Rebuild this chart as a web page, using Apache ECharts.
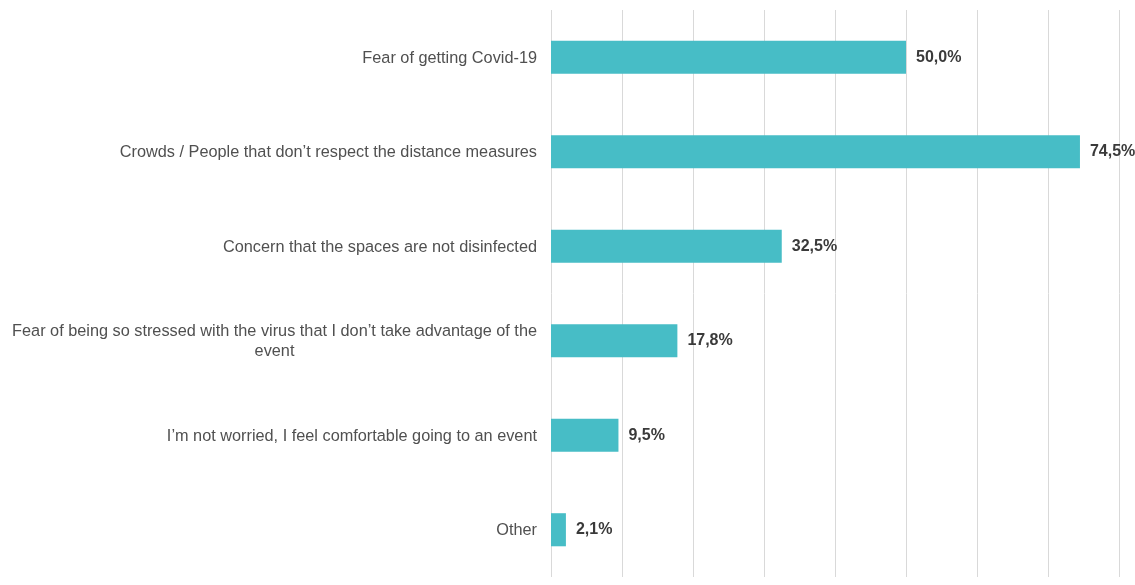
<!DOCTYPE html>
<html>
<head>
<meta charset="utf-8">
<script src="https://cdn.jsdelivr.net/npm/echarts@6/dist/echarts.min.js"></script>
<style>
  html, body { margin: 0; padding: 0; background: #ffffff; }
  #chart { width: 1135px; height: 585px; }
</style>
</head>
<body>
<div id="chart"></div>
<script>
// Concerns about attending an event (share of respondents, %)
const categories = [
  "Fear of getting Covid-19",
  "Crowds / People that don\u2019t respect the distance measures",
  "Concern that the spaces are not disinfected",
  "Fear of being so stressed with the virus that I don\u2019t take advantage of the event",
  "I\u2019m not worried, I feel comfortable going to an event",
  "Other"
];
const shares = [50.0, 74.5, 32.5, 17.8, 9.5, 2.1];
const axisMax = 80;
const axisStep = 10;

// Wrap long labels at the last space before the limit
function wrapLabel(text, limit) {
  if (text.length <= limit) return text;
  const cut = text.lastIndexOf(' ', limit);
  return text.slice(0, cut) + '\n' + text.slice(cut + 1);
}

const chart = echarts.init(document.getElementById('chart'));
chart.setOption({
  animation: false,
  grid: { left: 551, right: 16, top: 10, bottom: 8, containLabel: false },
  xAxis: {
    type: 'value',
    min: 0,
    max: axisMax,
    interval: axisStep,
    axisLine: { show: false },
    axisTick: { show: false },
    axisLabel: { show: false },
    splitLine: { show: true, lineStyle: { color: '#d9d9d9', width: 1 } }
  },
  yAxis: {
    type: 'category',
    inverse: true,
    data: categories,
    axisLine: { show: false },
    axisTick: { show: false },
    axisLabel: {
      margin: 14,
      formatter: function (v) { return '{c|' + wrapLabel(v, 76) + '}'; },
      rich: {
        c: {
          fontFamily: 'Liberation Sans, Arial, sans-serif',
          fontSize: 16.3,
          color: '#505050',
          lineHeight: 20,
          align: 'center',
          padding: [2, 0, 0, 0]
        }
      }
    }
  },
  series: [{
    type: 'bar',
    data: shares,
    barCategoryGap: '65%',
    itemStyle: { color: '#47bdc6' },
    label: {
      show: true,
      position: 'right',
      distance: 10,
      fontFamily: 'Liberation Sans, Arial, sans-serif',
      fontSize: 16,
      fontWeight: 'bold',
      color: '#3a3a3a',
      formatter: function (p) { return p.value.toFixed(1).replace('.', ',') + '%'; }
    }
  }]
});
</script>
</body>
</html>
